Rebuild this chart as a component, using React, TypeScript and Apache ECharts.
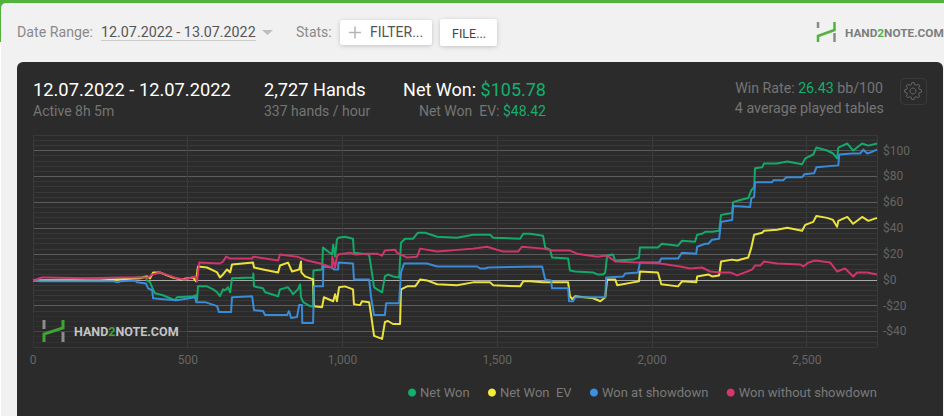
import React, { useEffect, useRef } from "react";
import * as echarts from "echarts";

const netWon = [[0,-0.5],[87,0.3],[217,1.1],[314,1.1],[365,2.6],[368,-0.5],[378,-2],[388,-7.4],[394,-10.4],[420,-12],[459,-15.8],[465,-13.5],[517,-12.7],[527,-12],[530,-15.8],[533,-5.1],[562,-5.1],[582,-7.4],[595,-9.7],[604,-12.7],[614,-7.4],[621,-8.1],[630,-5.8],[637,-9.7],[643,1.1],[711,1.8],[712,4.9],[714,-5.1],[743,-6.6],[750,-9.7],[792,-12.7],[798,-7.4],[824,-5.8],[834,-8.9],[840,-11.2],[856,-7.4],[863,-3.5],[866,-13.5],[873,-17.3],[895,-20.4],[905,-20.4],[906,7.2],[934,8],[937,24.9],[966,19.5],[970,27.2],[976,18],[982,31],[986,32.5],[1008,33.3],[1034,31.8],[1037,21],[1086,19.5],[1092,10.3],[1102,-5.8],[1128,-9.7],[1137,2.6],[1147,4.1],[1163,2.6],[1183,1.8],[1189,28.7],[1202,31.8],[1228,31.8],[1244,36.4],[1267,36.4],[1306,33.3],[1370,32.5],[1422,34.8],[1477,34.8],[1487,32.5],[1574,31.8],[1584,35.6],[1606,35.6],[1648,34],[1655,24.9],[1671,23.3],[1677,17.2],[1729,16.4],[1735,7.2],[1752,6.4],[1810,5.7],[1823,4.1],[1842,4.1],[1849,5.7],[1855,18.7],[1874,19.5],[1881,14.9],[1939,15.6],[1958,17.2],[1961,24.9],[2019,24.9],[2032,27.9],[2084,26.4],[2097,30.2],[2139,29.5],[2146,34.8],[2162,35.6],[2172,37.1],[2194,37.1],[2217,37.9],[2223,50.2],[2259,51.7],[2262,60.1],[2285,61.7],[2311,63.2],[2321,69.3],[2330,71.6],[2333,86.2],[2356,87],[2362,90],[2404,90],[2437,91.5],[2485,89.3],[2495,93.9],[2521,96.9],[2531,102.3],[2566,100],[2585,97.7],[2598,93.9],[2602,102.3],[2631,105.4],[2650,100],[2679,105.4],[2699,103.8],[2727,105.4]];

const netWonEv = [[0,-0.5],[55,-0.5],[217,-0.5],[346,1.1],[368,2.6],[378,1.1],[385,4.1],[388,5.7],[410,5.7],[433,3.4],[452,1.8],[475,0.3],[517,1.8],[527,-1.2],[533,10.3],[562,9.5],[582,7.2],[595,5.7],[604,1.8],[614,4.1],[627,8],[637,5.7],[643,11.8],[711,13.3],[714,9.5],[743,8],[792,5.7],[798,11],[824,13.3],[837,6.4],[860,8],[866,14.1],[867,5.7],[879,2.6],[905,0.3],[908,-20.4],[934,-21.2],[940,-13.5],[970,-16.6],[976,-11.2],[982,-16.6],[989,-5.8],[1008,-5.1],[1034,-7.4],[1037,-18.9],[1057,-19.6],[1063,-16.6],[1086,-17.3],[1092,-26.5],[1102,-43.4],[1128,-45.7],[1137,-32.7],[1147,-31.9],[1163,-34.2],[1186,-34.2],[1189,-7.4],[1209,-5.1],[1235,-5.1],[1251,0.3],[1273,-0.5],[1306,-3.5],[1370,-4.3],[1422,-2],[1477,-2],[1487,-4.3],[1574,-5.1],[1584,-1.2],[1606,-1.2],[1648,-2],[1729,-2],[1735,-12.7],[1742,-15],[1752,-12.7],[1810,-14.3],[1833,-16.6],[1849,-13.5],[1855,0.3],[1881,0.3],[1888,-4.3],[1939,-2],[1958,-1.2],[1961,6.4],[2019,5.7],[2030,-3.5],[2084,-5.1],[2097,-1.2],[2143,-2],[2146,2.6],[2182,4.1],[2194,2.6],[2217,3.4],[2223,14.1],[2259,15.6],[2275,14.9],[2311,17.2],[2321,24.9],[2330,34.8],[2356,36.4],[2362,37.9],[2404,38.7],[2437,40.2],[2485,37.9],[2495,42.5],[2521,44.8],[2531,49.4],[2566,47.9],[2585,46.3],[2598,41],[2602,45.6],[2631,48.6],[2650,43.3],[2679,48.6],[2699,45.6],[2727,47.9]];

const wonAtShowdown = [[0,-0.5],[23,-1.2],[259,-1.2],[275,-2],[281,-1.2],[330,-0.5],[336,-2],[365,-2.8],[372,-6.6],[385,-8.1],[388,-14.3],[420,-15],[465,-15.8],[524,-13.5],[527,-17.3],[556,-17.3],[595,-20.4],[601,-25],[640,-25],[643,-13.5],[708,-12.7],[714,-23.5],[743,-24.2],[750,-27.3],[821,-27.3],[827,-24.2],[834,-29.6],[853,-28.8],[860,-19.6],[869,-19.6],[870,-33.4],[905,-33.4],[908,-5.1],[937,-5.1],[938,10.3],[966,9.5],[973,8],[986,8],[987,13.3],[1034,12.6],[1037,0.3],[1086,0.3],[1092,-12.7],[1102,-27.3],[1137,-27.3],[1141,-18.1],[1183,-18.1],[1189,5.7],[1199,12.6],[1273,12.6],[1306,10.3],[1435,10.3],[1445,8.7],[1461,8.7],[1471,9.5],[1645,10.3],[1655,0.3],[1674,-0.5],[1677,-6.6],[1729,-6.6],[1732,-16.6],[1745,-16.6],[1752,-13.5],[1849,-13.5],[1852,1.8],[1907,2.6],[1913,4.9],[1955,5.7],[1961,13.3],[2023,13.3],[2030,16.4],[2084,16.4],[2097,21],[2143,20.2],[2146,25.6],[2172,27.9],[2182,27.9],[2194,31],[2217,31.8],[2223,44.8],[2259,46.3],[2262,57.1],[2317,56.3],[2321,63.2],[2330,64],[2333,75.5],[2388,75.5],[2392,77],[2424,77],[2434,79.3],[2485,79.3],[2492,81.6],[2524,82.4],[2531,87],[2602,88.5],[2605,96.9],[2647,97.7],[2673,97.7],[2683,100.7],[2695,97.7],[2705,98.4],[2727,100.7]];

const wonWithoutShowdown = [[0,-0.5],[29,1.8],[45,1.8],[175,1.1],[281,1.8],[372,1.8],[385,4.1],[410,5.7],[465,1.1],[491,0.3],[524,2.6],[530,-1.2],[537,13.3],[604,12.6],[614,14.1],[624,17.9],[637,16.4],[708,16.4],[711,17.9],[792,14.9],[798,19.5],[853,17.9],[886,14.9],[928,12.6],[966,9.5],[967,17.9],[976,9.5],[982,17.9],[986,19.5],[1025,21],[1041,19.5],[1079,20.2],[1112,20.2],[1128,18.7],[1137,22.6],[1170,23.3],[1176,21],[1209,17.2],[1241,17.9],[1251,24.1],[1306,21.8],[1422,24.1],[1467,25.6],[1519,21.8],[1567,21.8],[1580,25.6],[1648,24.1],[1680,22.6],[1735,22.6],[1758,20.2],[1823,17.9],[1855,18.7],[1881,14.1],[1952,13.3],[2026,12.6],[2091,10.3],[2123,8.7],[2162,9.5],[2188,6.4],[2220,5.7],[2253,5.7],[2275,3.4],[2308,6.4],[2324,8],[2333,11],[2350,11],[2362,14.1],[2404,12.6],[2479,11.8],[2489,10.3],[2505,13.3],[2527,14.9],[2576,13.3],[2598,6.4],[2624,8.7],[2650,2.6],[2663,5.7],[2695,5.7],[2727,4.1]];

const seriesNames = ["Net Won", "Net Won  EV", "Won at showdown", "Won without showdown"];
const seriesColors = ["#12b06c", "#f4ec3c", "#3a90e2", "#d8356f"];
const FONT = "Roboto";

const txt = (x: number, y: number, text: string, fontSize: number, fill: string, extra: any = {}) => ({
  type: "text",
  x,
  y,
  z: 5,
  style: { text, fontSize, fill, fontFamily: FONT, verticalAlign: "middle", ...extra },
});

const line = (x1: number, y1: number, x2: number, y2: number, stroke: string, lineWidth: number) => ({
  type: "line",
  z: 5,
  shape: { x1, y1, x2, y2 },
  style: { stroke, lineWidth },
});

const gearPoints = () => {
  const pts: number[][] = [];
  const cx = 913;
  const cy = 91;
  for (let i = 0; i < 8; i++) {
    const a = (i * Math.PI) / 4;
    [-0.27, -0.14, 0.14, 0.27].forEach((d, j) => {
      const r = j === 1 || j === 2 ? 8.5 : 6.5;
      pts.push([cx + r * Math.cos(a + d), cy + r * Math.sin(a + d)]);
    });
  }
  return pts;
};

export default function App() {
  const ref = useRef<HTMLDivElement>(null);
  useEffect(() => {
    document.body.style.margin = "0";
    const chart = echarts.init(ref.current!, undefined, { renderer: "svg" });
    const datas = [netWon, netWonEv, wonAtShowdown, wonWithoutShowdown];
    chart.setOption({
      animation: false,
      backgroundColor: "#ffffff",
      textStyle: { fontFamily: FONT },
      grid: { left: 33, right: 67, top: 135, bottom: 69 },
      legend: {
        data: seriesNames,
        right: 67,
        top: 386,
        icon: "circle",
        itemWidth: 8,
        itemHeight: 8,
        itemGap: 18.3,
        padding: 0,
        textStyle: { color: "#7a7a7a", fontSize: 13, fontFamily: FONT, padding: [0, 0, 0, -1] },
      },
      xAxis: {
        type: "value",
        min: 0,
        max: 2727,
        interval: 500,
        axisLine: { show: false },
        axisTick: { show: false },
        axisLabel: {
          color: "#666",
          fontSize: 12,
          margin: 7,
          showMaxLabel: false,
          formatter: (v: number) => (v % 500 === 0 ? v.toLocaleString("en-US") : ""),
        },
        splitLine: { show: true, lineStyle: { color: "#3a3a3a", width: 1 } },
      },
      yAxis: {
        type: "value",
        min: -52,
        max: 112,
        interval: 4,
        position: "right",
        axisLine: { show: false },
        axisTick: { show: false },
        axisLabel: {
          color: "#666",
          fontSize: 12,
          margin: 6,
          formatter: (v: number) => (v % 20 === 0 ? (v < 0 ? `-$${-v}` : `$${v}`) : ""),
        },
        splitLine: {
          show: true,
          lineStyle: { color: ["#383838", "#383838", "#383838", "#5c5c5c", "#383838"], width: 1 },
        },
      },
      series: datas.map((d, i) => ({
        name: seriesNames[i],
        type: "line",
        data: d,
        showSymbol: false,
        smooth: false,
        silent: true,
        lineStyle: { color: seriesColors[i], width: 2, opacity: 0.95, join: "round" },
        itemStyle: { color: seriesColors[i] },
        z: 3 + i,
        ...(i === 0
          ? {
              markLine: {
                silent: true,
                symbol: "none",
                label: { show: false },
                z: 1,
                lineStyle: { color: "#a8a8a8", width: 1, type: "solid" },
                data: [{ yAxis: 0 }],
              },
            }
          : {}),
      })),
      graphic: {
        elements: [
          { type: "rect", z: -20, shape: { x: 0, y: 0, width: 944, height: 416 }, style: { fill: "#ffffff" } },
          { type: "rect", z: -19, shape: { x: 0, y: 0, width: 12, height: 42 }, style: { fill: "#52b33c" } },
          { type: "rect", z: -18, shape: { x: 1, y: 3, width: 943, height: 413, r: [5, 0, 0, 0] }, style: { fill: "#f1f1f1" } },
          { type: "rect", z: -17, shape: { x: 0, y: 0, width: 944, height: 3 }, style: { fill: "#52b33c" } },
          { type: "rect", z: -16, shape: { x: 17, y: 62, width: 926, height: 360, r: 6 }, style: { fill: "#2b2b2b" } },

          txt(17, 32, "Date Range:", 14.2, "#8a8a8a"),
          txt(101, 32, "12.07.2022 - 13.07.2022", 14.3, "#555555"),
          line(101, 40.5, 256, 40.5, "#cccccc", 1),
          { type: "polygon", z: 5, shape: { points: [[262, 30], [273, 30], [267.5, 35]] }, style: { fill: "#bdbdbd" } },
          txt(296, 32, "Stats:", 14, "#8a8a8a"),
          {
            type: "rect", z: 4, shape: { x: 340, y: 20, width: 92, height: 25, r: 3 },
            style: { fill: "#ffffff", shadowBlur: 4, shadowColor: "rgba(0,0,0,0.2)", shadowOffsetY: 1 },
          },
          line(349, 32.5, 361, 32.5, "#b5b5b5", 1.5),
          line(355, 26.5, 355, 38.5, "#b5b5b5", 1.5),
          txt(370, 32, "FILTER...", 14, "#555555"),
          {
            type: "rect", z: 4, shape: { x: 440, y: 19, width: 57, height: 27, r: 3 },
            style: { fill: "#ffffff", shadowBlur: 4, shadowColor: "rgba(0,0,0,0.2)", shadowOffsetY: 1 },
          },
          txt(452, 33, "FILE...", 12.5, "#444444"),

          line(818, 22, 818, 28, "#8a8a8a", 2.5),
          line(834.5, 33, 834.5, 42, "#8a8a8a", 2.5),
          { type: "polyline", z: 5, shape: { points: [[818, 42], [818, 36], [834.5, 30], [834.5, 22]] }, style: { stroke: "#52b33c", lineWidth: 2.5, fill: "none" } },
          {
            type: "text", x: 845, y: 33, z: 5,
            style: {
              text: "{a|HAND}{b|2}{a|NOTE.COM}", verticalAlign: "middle",
              rich: {
                a: { fontSize: 11.8, fontWeight: "bold", fontFamily: FONT, fill: "#7d7d7d" },
                b: { fontSize: 11.8, fontWeight: "bold", fontFamily: FONT, fill: "#52b33c" },
              },
            },
          },

          txt(33, 89, "12.07.2022 - 12.07.2022", 18.3, "#ffffff"),
          txt(33, 111, "Active 8h 5m", 14, "#757575"),
          txt(264, 89, "2,727 Hands", 18.2, "#ffffff"),
          txt(264, 111, "337 hands / hour", 14, "#757575"),
          {
            type: "text", x: 546, y: 89, z: 5,
            style: {
              text: "{a|Net Won: }{b|$105.78}", align: "right", verticalAlign: "middle",
              rich: {
                a: { fontSize: 18, fontFamily: FONT, fill: "#ffffff" },
                b: { fontSize: 18, fontFamily: FONT, fill: "#12b06c" },
              },
            },
          },
          {
            type: "text", x: 546, y: 111, z: 5,
            style: {
              text: "{a|Net Won  EV: }{b|$48.42}", align: "right", verticalAlign: "middle",
              rich: {
                a: { fontSize: 14, fontFamily: FONT, fill: "#757575" },
                b: { fontSize: 14, fontFamily: FONT, fill: "#12b06c" },
              },
            },
          },
          {
            type: "text", x: 883, y: 88, z: 5,
            style: {
              text: "{a|Win Rate: }{b|26.43}{a| bb/100}", align: "right", verticalAlign: "middle",
              rich: {
                a: { fontSize: 14.2, fontFamily: FONT, fill: "#757575" },
                b: { fontSize: 14.2, fontFamily: FONT, fill: "#12b06c" },
              },
            },
          },
          txt(884, 108, "4 average played tables", 14.3, "#757575", { align: "right" }),
          { type: "rect", z: 4, shape: { x: 900.5, y: 78.5, width: 26, height: 26, r: 4 }, style: { fill: "none", stroke: "#3a3a3a", lineWidth: 1 } },
          { type: "polygon", z: 5, shape: { points: gearPoints() }, style: { fill: "none", stroke: "#666", lineWidth: 1 } },
          { type: "circle", z: 5, shape: { cx: 913, cy: 91, r: 3 }, style: { fill: "none", stroke: "#666", lineWidth: 1 } },

          { type: "rect", z: 6, shape: { x: 33, y: 313, width: 154, height: 34 }, style: { fill: "rgba(43,43,43,0.45)" } },
          line(44, 320, 44, 329, "#dddddd", 3),
          line(63, 332, 63, 342, "#dddddd", 3),
          { type: "polyline", z: 7, shape: { points: [[44, 342], [44, 334], [63, 328], [63, 320]] }, style: { stroke: "#3ea535", lineWidth: 3, fill: "none" } },
          {
            type: "text", x: 74, y: 331, z: 7,
            style: {
              text: "{a|HAND}{b|2}{a|NOTE.COM}", verticalAlign: "middle",
              rich: {
                a: { fontSize: 12.5, fontWeight: "bold", fontFamily: FONT, fill: "#c4c4c4" },
                b: { fontSize: 12.5, fontWeight: "bold", fontFamily: FONT, fill: "#3ea535" },
              },
            },
          },
        ],
      },
    });
    return () => chart.dispose();
  }, []);
  return <div ref={ref} style={{ width: 944, height: 416 }} />;
}
